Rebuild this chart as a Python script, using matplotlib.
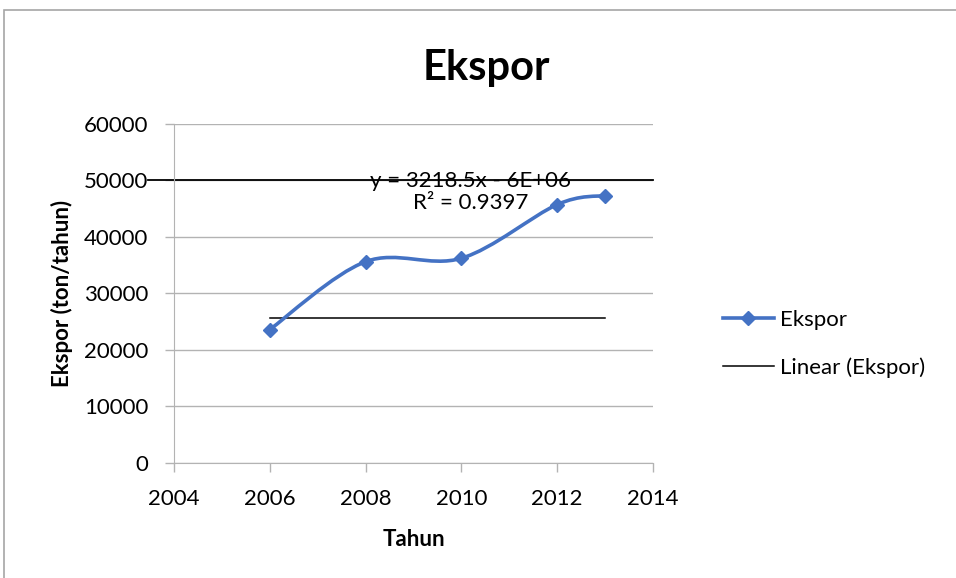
import matplotlib
matplotlib.use("Agg")
import matplotlib.pyplot as plt
from matplotlib.path import Path
from matplotlib.patches import PathPatch, Rectangle
import numpy as np

# ── Data ──────────────────────────────────────────────────────────────────────
years   = [2006, 2008, 2010, 2012, 2013]
ekspor  = [23600, 35600, 36200, 45700, 47300]
trend_y = 25600      # drawn trendline level
odd_y   = 50000      # stray black line at 50000
eq_text = "y = 3218.5x - 6E+06\nR² = 0.9397"

BLUE = "#4472C4"
GRID = "#b3b3b3"

plt.rcParams["font.family"] = ["Lato", "DejaVu Sans"]

fig = plt.figure(figsize=(9.56, 5.78), dpi=100)
ax = fig.add_axes([0.182, 0.199, 0.501, 0.587])

# figure border (runs off the right and bottom edges)
fig.patches.append(Rectangle((4 / 956, -0.1), 1.2, 1.1 - 10 / 578, transform=fig.transFigure,
                             fill=False, edgecolor="#a6a6a6", linewidth=1.2))

# smoothed line (Excel-style bezier through the points)
x = np.array(years, dtype=float)
y = np.array(ekspor, dtype=float)
verts = [(x[0], y[0])]
codes = [Path.MOVETO]
n = len(x)
for i in range(n - 1):
    p0 = np.array([x[max(i - 1, 0)], y[max(i - 1, 0)]])
    p1 = np.array([x[i], y[i]])
    p2 = np.array([x[i + 1], y[i + 1]])
    p3 = np.array([x[min(i + 2, n - 1)], y[min(i + 2, n - 1)]])
    c1 = p1 + (p2 - p0) / 6
    c2 = p2 - (p3 - p1) / 6
    verts += [tuple(c1), tuple(c2), tuple(p2)]
    codes += [Path.CURVE4] * 3
ax.add_patch(PathPatch(Path(verts, codes), facecolor="none", edgecolor=BLUE,
                       linewidth=2.6, zorder=3, capstyle="round"))
ax.plot(years, ekspor, linestyle="none", marker="D", markersize=7,
        color=BLUE, zorder=4)

# trendline artefacts
ax.plot([years[0], years[-1]], [trend_y, trend_y], color="black", linewidth=1.1, zorder=2)
ax.plot([2003.45, 2014], [odd_y, odd_y], color="black", linewidth=1.3, zorder=2,
        clip_on=False)

ax.text(2010.2, 47900, eq_text, ha="center", va="center", fontsize=16,
        linespacing=1.1, zorder=5)

# legend handles
h1, = ax.plot([], [], color=BLUE, linewidth=2.6, marker="D", markersize=7, label="Ekspor")
h2, = ax.plot([], [], color="black", linewidth=1.1, label="Linear (Ekspor)")
fig.legend(handles=[h1, h2], loc="center left", bbox_to_anchor=(0.735, 0.405),
           frameon=False, fontsize=16, handlelength=2.3, handletextpad=0.3,
           labelspacing=1.25)

ax.set_xlim(2004, 2014)
ax.set_ylim(0, 60000)
ax.set_xticks(range(2004, 2015, 2))
ax.set_yticks(range(0, 60001, 10000))
ax.grid(axis="y", color=GRID, linewidth=1)
ax.set_axisbelow(True)
for s in ["top", "right"]:
    ax.spines[s].set_visible(False)
for s in ["left", "bottom"]:
    ax.spines[s].set_color(GRID)
ax.tick_params(colors=GRID, labelcolor="black", labelsize=16, length=6.5, width=1)
ax.tick_params(axis="x", pad=12)
ax.tick_params(axis="y", pad=12)

fig.text(486 / 956, 1 - 68 / 578, "Ekspor", ha="center", va="center",
         fontsize=30, fontweight="bold")
ax.set_xlabel("Tahun", fontsize=16, fontweight="bold")
ax.set_ylabel("Ekspor (ton/tahun)", fontsize=16, fontweight="bold")
ax.xaxis.set_label_coords(0.5, (463 - 540) / 340, transform=ax.transAxes)
ax.yaxis.set_label_coords((62 - 174) / 479, 0.5, transform=ax.transAxes)
ax.xaxis.label.set_va("center")
ax.yaxis.label.set_va("center")

fig.savefig("out.png", dpi=100, facecolor="white")
